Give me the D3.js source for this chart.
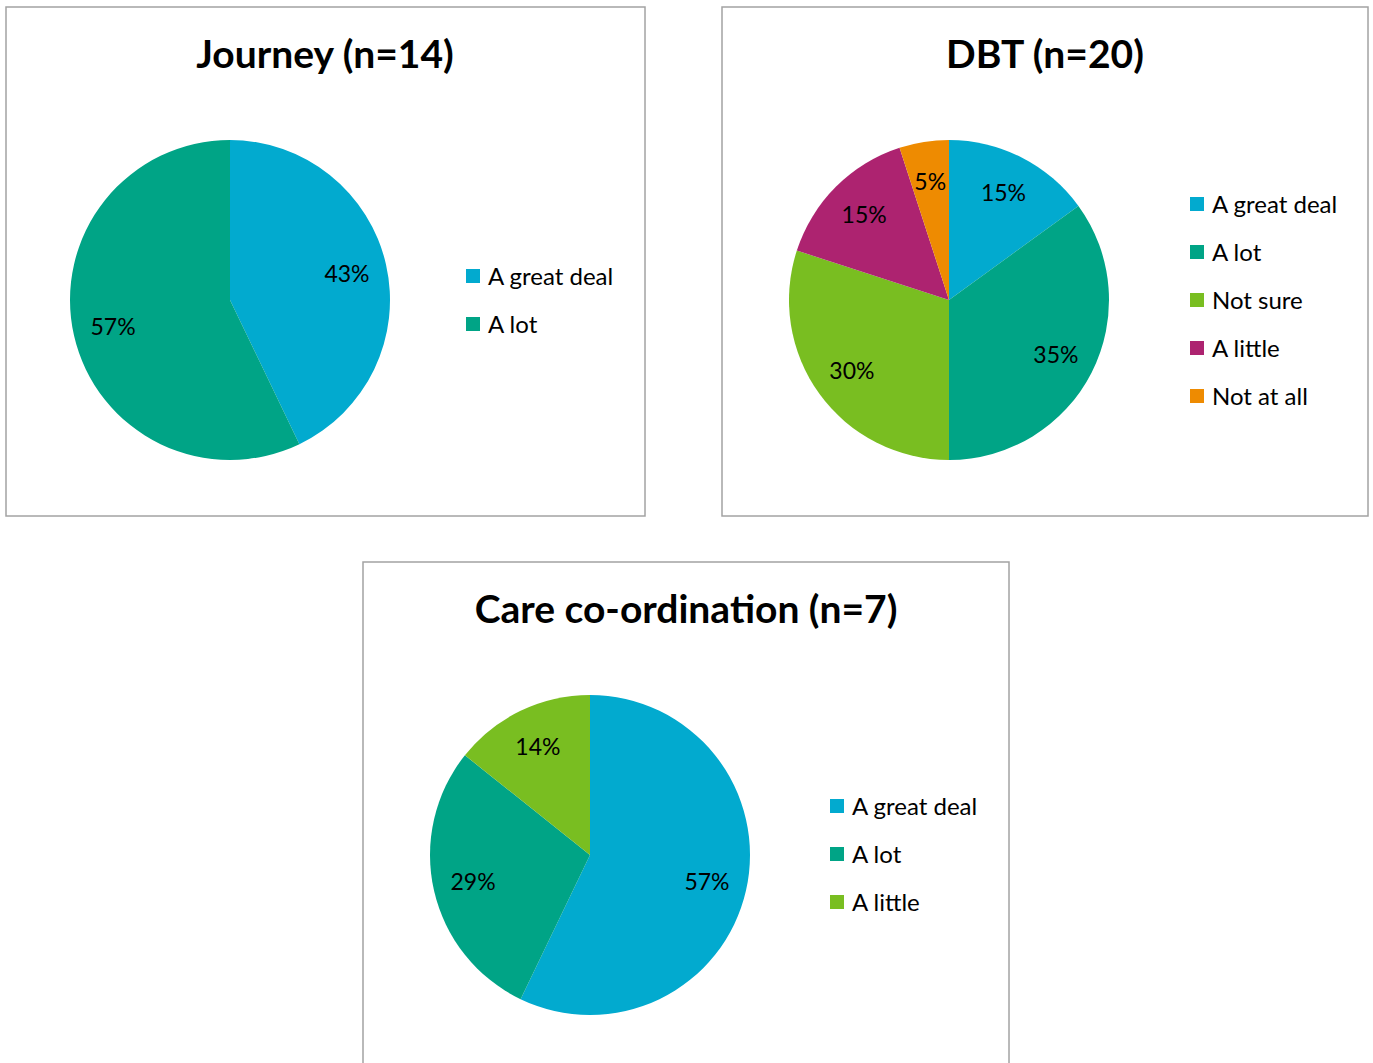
<!DOCTYPE html>
<html>
<head>
<meta charset="utf-8">
<script src="https://cdn.jsdelivr.net/npm/d3@7"></script>
<style>
  body { margin: 0; background: #fff; }
  text { font-family: Lato, "Open Sans", sans-serif; fill: #000; }
</style>
</head>
<body>
<script>
// response counts for each service
var journeyCats = ['A great deal', 'A lot'];
var journeyVals = [6, 8];

var dbtCats = ['A great deal', 'A lot', 'Not sure', 'A little', 'Not at all'];
var dbtVals = [3, 7, 6, 3, 1];

var careCats = ['A great deal', 'A lot', 'A little'];
var careVals = [4, 2, 1];

var colours = {
	'A great deal': '#02aacf',
	'A lot': '#00a486',
	'Not sure': '#79be21',
	'A little': '#ad2370',
	'Not at all': '#ee8b01'
};
// the third chart uses the green for "A little"
var careColours = ['#02aacf', '#00a486', '#79be21'];

var svg = d3.select('body').append('svg')
	.attr('width', 1373)
	.attr('height', 1063);

function drawPie(box, title, cats, vals, cols) {
	var g = svg.append('g')
		.attr('transform', 'translate(' + box.x + ',' + box.y + ')');

	// frame
	g.append('rect')
		.attr('x', 0)
		.attr('y', 0)
		.attr('width', box.w)
		.attr('height', box.h)
		.attr('fill', '#fff')
		.attr('stroke', '#a3a3a3')
		.attr('stroke-width', 1.5);

	g.append('text')
		.attr('x', box.titleX)
		.attr('y', 61)
		.attr('text-anchor', 'middle')
		.style('font-size', '39px')
		.style('font-weight', 'bold')
		.text(title);

	var r = 160;
	var total = d3.sum(vals);
	var pie = d3.pie().sort(null).value(function(d) { return d; });
	var arcs = pie(vals);
	var arc = d3.arc().innerRadius(0).outerRadius(r);
	var labelArc = d3.arc().innerRadius(r * 0.75).outerRadius(r * 0.75);

	var p = g.append('g')
		.attr('transform', 'translate(' + box.cx + ',' + box.cy + ')');

	p.selectAll('path')
		.data(arcs)
		.enter().append('path')
		.attr('d', arc)
		.attr('fill', function(d, i) { return cols[i]; });

	p.selectAll('text')
		.data(arcs)
		.enter().append('text')
		.attr('transform', function(d) {
			return 'translate(' + labelArc.centroid(d) + ')';
		})
		.attr('dy', '0.36em')
		.attr('text-anchor', 'middle')
		.style('font-size', '23px')
		.text(function(d) { return Math.round(d.data / total * 100) + '%'; });

	// legend
	var leg = g.selectAll('.legend')
		.data(cats)
		.enter().append('g')
		.attr('class', 'legend')
		.attr('transform', function(d, i) {
			return 'translate(' + box.lx + ',' + (box.ly + i * 48) + ')';
		});

	leg.append('rect')
		.attr('x', 0)
		.attr('y', -7)
		.attr('width', 14)
		.attr('height', 14)
		.attr('fill', function(d, i) { return cols[i]; });

	leg.append('text')
		.attr('x', 22)
		.attr('y', 0)
		.attr('dy', '0.36em')
		.style('font-size', '24px')
		.text(function(d) { return d; });
}

drawPie({ x: 6, y: 7, w: 639, h: 509, titleX: 319, cx: 224, cy: 293, lx: 460, ly: 269 },
	'Journey (n=14)', journeyCats, journeyVals,
	journeyCats.map(function(c) { return colours[c]; }));

drawPie({ x: 722, y: 7, w: 646, h: 509, titleX: 323, cx: 227, cy: 293, lx: 468, ly: 197 },
	'DBT (n=20)', dbtCats, dbtVals,
	dbtCats.map(function(c) { return colours[c]; }));

drawPie({ x: 363, y: 562, w: 646, h: 520, titleX: 323, cx: 227, cy: 293, lx: 467, ly: 244 },
	'Care co-ordination (n=7)', careCats, careVals, careColours);
</script>
</body>
</html>
